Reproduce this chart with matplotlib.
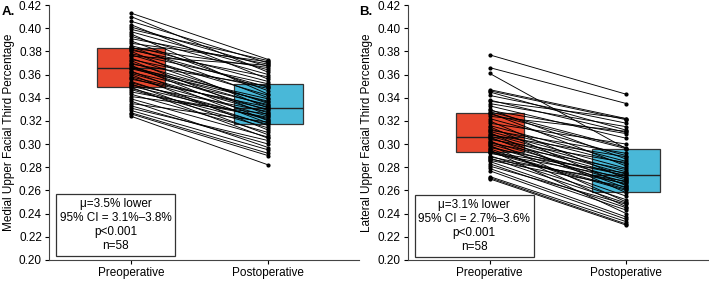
import matplotlib
matplotlib.use('Agg')
import matplotlib.pyplot as plt

plt.rcParams['font.family'] = ['Liberation Sans', 'DejaVu Sans']

GROUPS = ['Preoperative', 'Postoperative']

MEDIAL_PRE = [0.413, 0.410, 0.406, 0.403, 0.401, 0.399, 0.397, 0.395, 0.393, 0.391,
              0.389, 0.387, 0.385, 0.384, 0.383, 0.382, 0.381, 0.380, 0.378, 0.377,
              0.376, 0.374, 0.373, 0.372, 0.370, 0.369, 0.368, 0.367, 0.366, 0.366,
              0.365, 0.363, 0.362, 0.361, 0.360, 0.358, 0.357, 0.356, 0.354, 0.353,
              0.352, 0.351, 0.350, 0.349, 0.348, 0.347, 0.345, 0.343, 0.341, 0.339,
              0.337, 0.335, 0.333, 0.331, 0.329, 0.327, 0.326, 0.324]
MEDIAL_POST = [0.373, 0.362, 0.370, 0.356, 0.367, 0.372, 0.364, 0.343, 0.360, 0.369,
               0.346, 0.371, 0.354, 0.340, 0.366, 0.349, 0.358, 0.331, 0.352, 0.342,
               0.368, 0.335, 0.348, 0.325, 0.336, 0.350, 0.320, 0.333, 0.339, 0.329,
               0.337, 0.318, 0.334, 0.327, 0.312, 0.330, 0.324, 0.332, 0.316, 0.321,
               0.308, 0.328, 0.322, 0.305, 0.317, 0.314, 0.323, 0.310, 0.326, 0.306,
               0.297, 0.319, 0.300, 0.303, 0.295, 0.292, 0.290, 0.282]

LATERAL_PRE = [0.377, 0.366, 0.361, 0.347, 0.346, 0.345, 0.342, 0.338, 0.337, 0.335,
               0.333, 0.330, 0.329, 0.328, 0.327, 0.326, 0.324, 0.322, 0.320, 0.318,
               0.316, 0.315, 0.313, 0.312, 0.311, 0.310, 0.309, 0.308, 0.307, 0.306,
               0.305, 0.304, 0.303, 0.302, 0.301, 0.300, 0.299, 0.298, 0.297, 0.296,
               0.295, 0.294, 0.293, 0.293, 0.292, 0.290, 0.289, 0.288, 0.287, 0.286,
               0.285, 0.283, 0.281, 0.279, 0.277, 0.272, 0.271, 0.270]
LATERAL_POST = [0.343, 0.335, 0.296, 0.322, 0.321, 0.312, 0.318, 0.310, 0.322, 0.315,
                0.305, 0.287, 0.309, 0.297, 0.281, 0.296, 0.311, 0.290, 0.270, 0.300,
                0.285, 0.264, 0.283, 0.292, 0.279, 0.258, 0.276, 0.289, 0.274, 0.262,
                0.272, 0.284, 0.250, 0.269, 0.278, 0.267, 0.246, 0.265, 0.273, 0.255,
                0.240, 0.261, 0.275, 0.260, 0.271, 0.252, 0.266, 0.249, 0.268, 0.263,
                0.245, 0.243, 0.248, 0.237, 0.235, 0.233, 0.231, 0.230]

STATS_A = 'μ=3.5% lower\n95% CI = 3.1%–3.8%\np<0.001\nn=58'
STATS_B = 'μ=3.1% lower\n95% CI = 2.7%–3.6%\np<0.001\nn=58'

RED = '#e8482e'
BLUE = '#49b8d8'


def panel(ax, pre, post, ylabel, stats, xright, stats_xy):
    bp = ax.boxplot([pre, post], positions=[1, 2], widths=0.5, whis=0,
                    showcaps=False, showfliers=False, patch_artist=True,
                    medianprops=dict(color='#222222', linewidth=1.0),
                    whiskerprops=dict(linewidth=0), zorder=1)
    for box, col in zip(bp['boxes'], [RED, BLUE]):
        box.set_facecolor(col)
        box.set_edgecolor('#333333')
        box.set_linewidth(0.9)
    for a, b in zip(pre, post):
        ax.plot([1, 2], [a, b], color='black', linewidth=0.65,
                marker='o', markersize=2.0, zorder=3)
    ax.set_xlim(0.4, xright)
    ax.set_ylim(0.20, 0.42)
    ax.set_yticks([0.20 + 0.02 * i for i in range(12)])
    ax.yaxis.set_major_formatter(matplotlib.ticker.FormatStrFormatter('%.2f'))
    ax.set_xticks([1, 2])
    ax.set_xticklabels(GROUPS)
    ax.tick_params(labelsize=8.5, length=3, width=0.8, pad=2)
    for s in ['top', 'right']:
        ax.spines[s].set_visible(False)
    for s in ['left', 'bottom']:
        ax.spines[s].set_linewidth(0.8)
        ax.spines[s].set_color('#444444')
    ax.set_ylabel(ylabel, fontsize=8.5, labelpad=3)
    ax.text(stats_xy[0], stats_xy[1], stats, transform=ax.transAxes,
            ha='center', va='center', multialignment='center', fontsize=8.5,
            linespacing=1.25,
            bbox=dict(boxstyle='square,pad=0.3', facecolor='white',
                      edgecolor='#333333', linewidth=0.9), zorder=5)


fig = plt.figure(figsize=(7.09, 2.81), dpi=100)
ax1 = fig.add_axes([0.069, 0.075, 0.437, 0.907])
ax2 = fig.add_axes([0.575, 0.075, 0.424, 0.907])

panel(ax1, MEDIAL_PRE, MEDIAL_POST, 'Medial Upper Facial Third Percentage',
      STATS_A, 2.66, (0.2145, 0.137))
panel(ax2, LATERAL_PRE, LATERAL_POST, 'Lateral Upper Facial Third Percentage',
      STATS_B, 2.6, (0.221, 0.133))

fig.text(0.002, 0.957, 'A.', fontsize=9.5, fontweight='bold', va='center')
fig.text(0.506, 0.957, 'B.', fontsize=9.5, fontweight='bold', va='center')

fig.savefig('out.png', dpi=100)
